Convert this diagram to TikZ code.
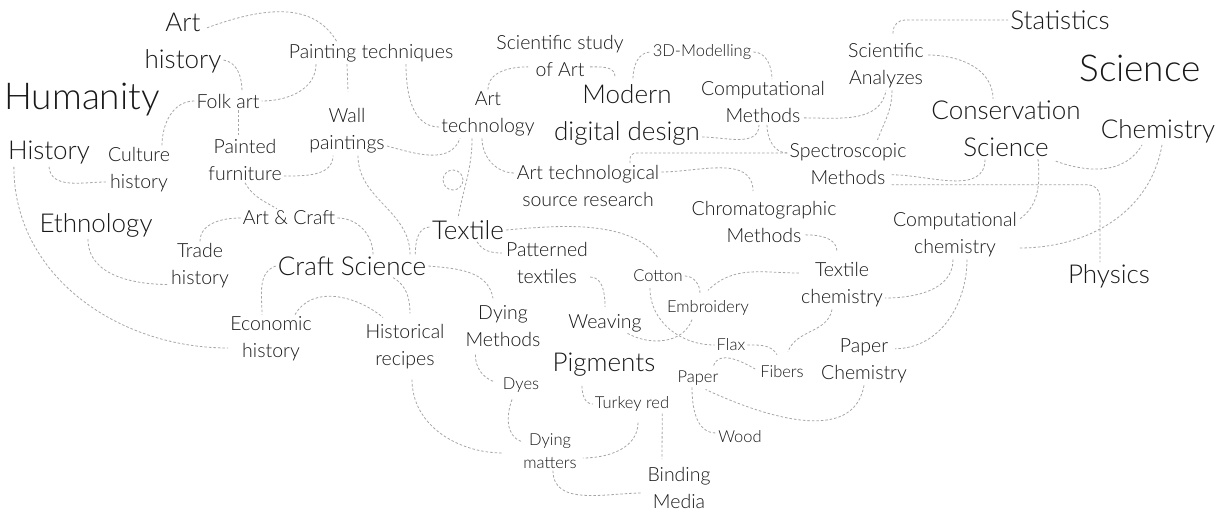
\documentclass[tikz,border=0pt]{standalone}
\usepackage{fontspec}
\setmainfont{Lato}[UprightFont={* Light}]

\tikzset{
  term/.style={inner sep=2pt, align=center, text=black!90},
  hugeword/.style={term, font=\fontsize{37}{42}\selectfont},
  bigword/.style={term, font=\fontsize{26}{37}\selectfont},
  midword/.style={term, font=\fontsize{19.5}{27}\selectfont},
  smallword/.style={term, font=\fontsize{16.5}{23}\selectfont},
  link/.style={draw=gray!70, dash pattern=on 2.5pt off 2pt, line width=0.8pt},
}

\begin{document}
\begin{tikzpicture}[x=1pt, y=1pt]
  \fill [white] (0,0) rectangle (1231,512);
  \useasboundingbox (0,0) rectangle (1231,512);

  % humanities
  \node (arthist) [bigword] at (183,469) {Art\\history};
  \node (paint) [midword] at (371,459) {Painting techniques};
  \node (human) [hugeword] at (82,412) {Humanity};
  \node (folk) [midword] at (228,411) {Folk art};
  \node (wall) [midword] at (347,381) {Wall\\paintings};
  \node (hist) [bigword] at (49,359) {History};
  \node (culture) [midword] at (139,342) {Culture\\history};
  \node (furn) [midword] at (245,352) {Painted\\furniture};
  \node (ethno) [bigword] at (96,287) {Ethnology};
  \node (artcraft) [midword] at (289,294) {Art \& Craft};
  \node (trade) [midword] at (200,246) {Trade\\history};
  \node (craft) [bigword] at (352,246) {Craft Science};
  \node (econ) [midword] at (271,173) {Economic\\history};
  \node (recipe) [midword] at (405,165) {Historical\\recipes};

  % middle
  \node (arttech) [midword] at (488,398) {Art\\technology};
  \node (ring) [circle, draw=gray!70, dash pattern=on 2.5pt off 2pt, line width=0.8pt, minimum size=20pt, inner sep=0pt] at (453,332) {};
  \node (sciart) [midword] at (560,456) {Scientific study\\of Art};
  \node (modern) [bigword] at (627,397) {Modern\\digital design};
  \node (model3d) [smallword] at (702,460) {3D-Modelling};
  \node (compmeth) [midword] at (763,410) {Computational\\Methods};
  \node (source) [midword] at (588,326) {Art technological\\source research};
  \node (textile) [bigword] at (468,282) {Textile};
  \node (dyingm) [midword] at (503,186) {Dying\\Methods};
  \node (pattern) [midword] at (547,249) {Patterned\\textiles};
  \node (cotton) [smallword] at (658,236) {Cotton};
  \node (embro) [smallword] at (708,204) {Embroidery};
  \node (weave) [midword] at (605,189) {Weaving};
  \node (flax) [smallword] at (731,167) {Flax};
  \node (fibers) [smallword] at (782,140) {Fibers};
  \node (paper) [smallword] at (698,134) {Paper};
  \node (pigm) [bigword] at (604,147) {Pigments};
  \node (turkey) [smallword] at (632,108) {Turkey red};
  \node (dyes) [smallword] at (521,127) {Dyes};
  \node (wood) [smallword] at (740,75) {Wood};
  \node (matters) [smallword] at (550,61) {Dying\\matters};
  \node (binding) [midword] at (679,24) {Binding\\Media};

  % sciences
  \node (chroma) [midword] at (764,290) {Chromatographic\\Methods};
  \node (textchem) [midword] at (842,227) {Textile\\chemistry};
  \node (paperchem) [midword] at (864,151) {Paper\\Chemistry};
  \node (compchem) [midword] at (955,277) {Computational\\chemistry};
  \node (physics) [bigword] at (1109,236) {Physics};
  \node (spectro) [midword] at (848,348) {Spectroscopic\\Methods};
  \node (scian) [midword] at (886,446) {Scientific\\Analyzes};
  \node (stats) [bigword] at (1060,492) {Statistics};
  \node (science) [hugeword] at (1140,444) {Science};
  \node (conserv) [bigword] at (1006,383) {Conservation\\Science};
  \node (chem) [bigword] at (1158,381) {Chemistry};

  \path [link]
    ([shift={(24,-17)}]arthist.north) edge [out=20, in=120] ([xshift=-34pt]paint.north)
    ([yshift=-17pt]arthist.east) edge [out=-10, in=90] ([xshift=14pt]folk.north)
    ([xshift=-55pt]paint.south) edge [out=-90, in=0] (folk.east)
    ([xshift=-24pt]paint.south) edge ([shift={(1,15)}]wall.north)
    (folk.west) edge [out=180, in=90] ([xshift=23pt]culture.north)
    ([xshift=10pt]folk.south) edge ([xshift=-7pt]furn.north)
    (hist.south) edge [out=-85, in=180] ([yshift=-12pt]culture.west)
    ([yshift=-16pt]furn.east) edge [out=0, in=-90] ([xshift=-14pt]wall.south)
    (furn.south) edge [out=-60, in=150] ([xshift=-12pt]artcraft.north)
    (artcraft.west) edge [out=180, in=90] (trade.north)
    (artcraft.east) edge [out=0, in=90] ([xshift=21pt]craft.north)
    ([xshift=11pt]wall.south) edge [out=-90, in=90] ([xshift=58pt]craft.north)
    ([yshift=-15pt]wall.east) edge [out=-15, in=-110] ([xshift=-28pt]arttech.south)
    ([xshift=35pt]paint.south) edge [out=-90, in=180] ([yshift=-13pt]arttech.west)
    ([xshift=-16pt]arttech.south) edge [out=-90, in=80] ([xshift=-10pt]textile.north)
    ([xshift=-6pt]arttech.south) edge [out=-90, in=180] ([yshift=13pt]source.west)
    (arttech.north) edge [out=90, in=180] ([shift={(-32,12)}]sciart.south)
    ([shift={(30,12)}]sciart.south) edge [out=0, in=90] ([shift={(-12,6)}]modern.north)
    ([shift={(6,4)}]modern.north) edge [out=90, in=180] (model3d.west)
    (model3d.east) edge [out=0, in=90] ([xshift=9pt]compmeth.north)
    ([yshift=-22pt]modern.east) edge [out=0, in=-90] ([xshift=-4pt]compmeth.south)
    ([xshift=4pt]compmeth.south) edge [out=-90, in=180] ([yshift=11pt]spectro.west)
    ([shift={(-23,7)}]compmeth.south east) edge [out=0, in=-100] (scian.south)
    ([xshift=6pt]scian.south) edge [out=-90, in=70] ([xshift=29pt]spectro.north)
    ([shift={(2,11)}]scian.east) edge [out=0, in=90] ([xshift=-13pt]conserv.north)
    ([yshift=14pt]source.east) edge [out=0, in=90] ([shift={(-11,8)}]chroma.north)
    ([shift={(-17,12)}]spectro.south east) edge [out=0, in=-90] ([xshift=-21pt]conserv.south)
    ([shift={(-27,-2)}]conserv.south east) edge [out=-20, in=-120] ([xshift=-16pt]chem.south)
    ([xshift=32pt]conserv.south) edge [out=-85, in=35] ([yshift=-9pt]compchem.north east)
    ([xshift=4pt]chem.south) edge [out=-100, in=0] ([yshift=-13pt]compchem.east)
    ([xshift=-2pt]compchem.south) edge [out=-90, in=0] ([yshift=-13pt]textchem.east)
    ([xshift=12pt]compchem.south) edge [out=-90, in=0] ([shift={(-14,-12)}]paperchem.north east)
    ([shift={(-33,10)}]chroma.south east) edge [out=0, in=90] ([shift={(-5,9)}]textchem.north)
    ([yshift=12pt]textchem.west) edge [out=180, in=45] ([yshift=8pt]embro.north)
    ([xshift=-10pt]textchem.south) edge [out=-100, in=70] ([shift={(6,12)}]fibers.north)
    (paperchem.south) edge [out=-100, in=-25] ([shift={(-15,-2)}]paper.south east)
    ([shift={(-7,3)}]paper.north east) edge [out=70, in=150] ([shift={(-3,3)}]fibers.west)
    ([xshift=-6pt]paper.south) edge [out=-90, in=180] ([yshift=4pt]wood.west)
    (flax.east) edge [out=0, in=120] ([shift={(-5,9)}]fibers.north)
    ([shift={(-8,-4)}]cotton.south) edge [out=-90, in=180] (flax.west)
    (cotton.east) edge [out=0, in=90] ([shift={(-8,5)}]embro.north)
    ([shift={(-16,-2)}]embro.south) edge [out=-110, in=-30] ([shift={(-17,1)}]weave.south east)
    (textile.east) edge [out=5, in=125, looseness=0.8] ([yshift=10pt]cotton.north)
    ([xshift=9pt]textile.south) edge [out=-60, in=180] ([shift={(-2,10)}]pattern.west)
    ([yshift=-14pt]pattern.east) edge [out=0, in=90] ([yshift=5pt]weave.north)
    (craft.east) edge [out=-5, in=100] ([shift={(-10,5)}]dyingm.north)
    ([xshift=-13pt]craft.north east) edge [out=90, in=180] ([yshift=3pt]textile.west)
    (craft.west) edge [out=200, in=90] ([xshift=-9pt]econ.north)
    ([xshift=24pt]econ.north) edge [out=60, in=140] ([shift={(-22,5)}]recipe.north)
    ([xshift=41pt]craft.south) edge [out=-30, in=90] ([shift={(5,9)}]recipe.north)
    ([xshift=8pt]hist.south west) edge [out=-90, in=180] ([yshift=-9pt]econ.west)
    ([xshift=-8pt]ethno.south) edge [out=-90, in=180] ([yshift=6pt]trade.south west)
    ([shift={(7,-8)}]recipe.south) edge [out=-90, in=180] ([shift={(-18,-2)}]matters.west)
    ([shift={(12,-6)}]dyingm.south west) edge [out=-90, in=160] ([shift={(-6,3)}]dyes.west)
    ([shift={(-9,-5)}]dyes.south) edge [out=-110, in=160] ([yshift=-10pt]matters.north west)
    ([shift={(-22,-7)}]pigm.south) edge [out=-90, in=180] (turkey.west)
    ([shift={(6,-9)}]turkey.south) edge [out=-90, in=0] ([shift={(4,-7)}]matters.east)
    ([xshift=3pt]matters.south) edge [out=-90, in=180] ([shift={(-3,-5)}]binding.west);

  \draw [link] ([xshift=-9pt]turkey.south east) -- ([shift={(-17,6)}]binding.north);
  \draw [link, rounded corners=12pt] ([shift={(7,8)}]scian.north) |- (stats.west);
  \draw [link, rounded corners=6pt] ([xshift=42pt]source.north) |- ([yshift=11pt]spectro.west);
  \draw [link, rounded corners=12pt] ([shift={(-17,2)}]spectro.south east) -| ([xshift=-9pt]physics.north);
\end{tikzpicture}
\end{document}
